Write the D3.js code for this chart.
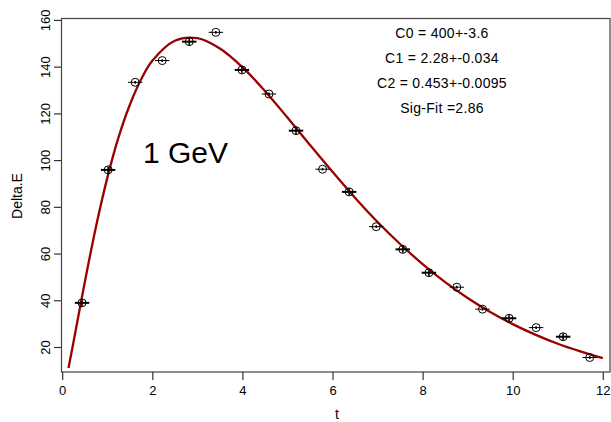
<!DOCTYPE html>
<html><head><meta charset="utf-8">
<script src="https://cdn.jsdelivr.net/npm/d3@7"></script>
<style>body{margin:0;background:#fff}svg{display:block}text{font-family:"Liberation Sans",Arial,sans-serif;fill:#000}</style>
</head><body><svg id="c" width="611" height="422"></svg>
<script>
// measured points
const tData  = [0.44, 1.02, 1.62, 2.22, 2.82, 3.41, 3.99, 4.59, 5.19, 5.78, 6.37, 6.97, 7.56, 8.14, 8.76, 9.33, 9.92, 10.52, 11.12, 11.71];
const deltaE = [38.9, 95.8, 133.3, 142.6, 150.7, 154.7, 138.6, 128.3, 112.6, 96.1, 86.4, 71.5, 61.8, 51.8, 45.6, 36.2, 32.3, 28.3, 24.4, 15.5];
const yErr   = [1.5, 1.5, 0.6, 0.6, 1.5, 0.6, 1.5, 0.6, 1.5, 0.6, 1.5, 0.6, 1.5, 1.5, 0.6, 0.6, 1.5, 0.6, 1.5, 0.6];
const xErr   = [0.16, 0.16, 0.16, 0.16, 0.16, 0.16, 0.16, 0.16, 0.16, 0.16, 0.16, 0.16, 0.16, 0.16, 0.16, 0.16, 0.16, 0.16, 0.16, 0.16];
// fitted curve
const fitT = [0.14, 0.25, 0.5, 0.75, 1, 1.25, 1.5, 1.75, 2, 2.5, 3, 3.5, 4, 4.5, 5, 5.5, 6, 6.5, 7, 7.5, 8, 8.5, 9, 9.5, 10, 10.5, 11, 11.5, 12];
const fitE = [11.0, 22.0, 47.6, 71.5, 92.3, 109.7, 123.6, 134.5, 142.5, 151.1, 152.2, 147.8, 139.8, 129.6, 118.2, 106.5, 95.0, 83.9, 73.5, 64.1, 55.5, 47.8, 41.0, 35.0, 29.8, 25.3, 21.4, 18.1, 15.2];
const xTicks = [0, 2, 4, 6, 8, 10, 12];
const yTicks = [20, 40, 60, 80, 100, 120, 140, 160];
const fitLabels = ["C0 = 400+-3.6", "C1 = 2.28+-0.034", "C2 = 0.453+-0.0095", "Sig-Fit =2.86"];
const energyLabel = "1 GeV";
const xTitle = "t", yTitle = "Delta.E";

const svg = d3.select("#c");
const L = 61, R = 610, T = 19, B = 372;
const x = d3.scaleLinear().domain([0, 12]).range([62.2, 602.8]);
const y = d3.scaleLinear().domain([9.3, 160.4]).range([B, T]);

// frame
svg.append("rect").attr("x", L + 0.5).attr("y", T - 0.5).attr("width", R - L - 0.5).attr("height", B - T + 0.5)
  .attr("fill", "none").attr("stroke", "#444").attr("stroke-width", 1.2);

// axes
const gx = svg.append("g").attr("transform", `translate(0,${B})`)
  .call(d3.axisBottom(x).tickValues(xTicks).tickFormat(d3.format("d")).tickSize(8).tickPadding(6));
gx.select(".domain").remove();
gx.selectAll("line").attr("stroke", "#333").attr("stroke-width", 1.2);
gx.selectAll("text").attr("font-size", 13).attr("font-family", "Liberation Sans, Arial");

const gy = svg.append("g").attr("transform", `translate(${L},0)`)
  .call(d3.axisLeft(y).tickValues(yTicks).tickFormat(d3.format("d")).tickSize(7));
gy.select(".domain").remove();
gy.selectAll("line").attr("stroke", "#333").attr("stroke-width", 1.2);
gy.selectAll("text").attr("font-size", 13).attr("font-family", "Liberation Sans, Arial")
  .attr("x", null).attr("dy", null).attr("text-anchor", "middle")
  .attr("transform", "translate(-11,0) rotate(-90)");

svg.append("text").attr("x", 337).attr("y", 419).attr("text-anchor", "middle").attr("font-size", 14).text(xTitle);
svg.append("text").attr("transform", "translate(22,196) rotate(-90)").attr("text-anchor", "middle").attr("font-size", 14).text(yTitle);

// fit curve
const line = d3.line().x((d, i) => x(fitT[i])).y(d => y(d)).curve(d3.curveCatmullRom);
svg.append("path").attr("d", line(fitE)).attr("fill", "none").attr("stroke", "#9a0000").attr("stroke-width", 2.3);

// points with error bars
const pts = svg.append("g").selectAll("g").data(tData).join("g");
pts.append("line")
  .attr("x1", (d, i) => x(d - xErr[i])).attr("x2", (d, i) => x(d + xErr[i]))
  .attr("y1", (d, i) => y(deltaE[i])).attr("y2", (d, i) => y(deltaE[i]))
  .attr("stroke", "#000").attr("stroke-width", (d, i) => yErr[i] > 1 ? 2 : 1);
pts.append("line")
  .attr("x1", d => x(d)).attr("x2", d => x(d))
  .attr("y1", (d, i) => y(deltaE[i] - yErr[i])).attr("y2", (d, i) => y(deltaE[i] + yErr[i]))
  .attr("stroke", "#000").attr("stroke-width", 1.5);
pts.append("circle")
  .attr("cx", d => x(d)).attr("cy", (d, i) => y(deltaE[i])).attr("r", 4)
  .attr("fill", "none").attr("stroke", "#000").attr("stroke-width", 1);

// annotation
svg.append("g").selectAll("text").data(fitLabels).join("text")
  .attr("x", 442).attr("y", (d, i) => 38 + i * 25).attr("text-anchor", "middle")
  .attr("font-size", 14).attr("letter-spacing", 0.3).text(d => d);

svg.append("text").attr("x", 143).attr("y", 163).attr("font-size", 30).text(energyLabel);
</script></body></html>
